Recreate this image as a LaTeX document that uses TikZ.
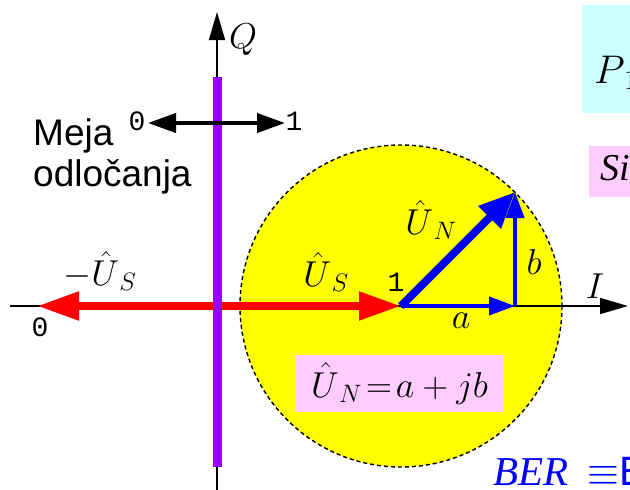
\RequirePackage{fix-cm}
\documentclass[tikz,border=0pt]{standalone}
\usepackage{fontspec}
\newfontfamily\sansfont{Liberation Sans}
\newfontfamily\monofont{Liberation Mono}
\newfontfamily\seriffont{Liberation Serif}
\usetikzlibrary{arrows.meta, positioning}

\definecolor{circfill}{RGB}{255,255,0}
\definecolor{boundary}{RGB}{153,0,255}
\definecolor{boxpink}{RGB}{255,204,255}
\definecolor{boxcyan}{RGB}{204,255,255}

\begin{document}
\begin{tikzpicture}[
    x=1pt, y=-1pt,
    axis/.style={line width=1.6pt, -{Triangle[length=28pt, width=16pt]}},
    vecred/.style={red, line width=8pt, -{Triangle[length=42pt, width=27pt]}},
    vecbig/.style={blue, line width=8pt, -{Triangle[length=36pt, width=30pt]}},
    vecsmall/.style={blue, line width=4pt, -{Triangle[length=26pt, width=18pt]}},
    decide/.style={line width=4pt, {Triangle[length=28pt, width=19pt]}-{Triangle[length=28pt, width=19pt]}},
    lbl/.style={inner sep=0pt, font=\fontsize{36}{40}\selectfont},
    digit/.style={inner sep=0pt, font=\monofont\fontsize{28}{30}\selectfont},
]
\useasboundingbox (0,0) rectangle (630,490);
\clip (0,0) rectangle (630,490);

% points
\coordinate (O) at (401,306);
\coordinate (orig) at (217,306);
\coordinate (tip) at (515,192);
\coordinate (foot) at (515,306);
\coordinate (left) at (37,306);
\coordinate (xstart) at (10,306);
\coordinate (xend) at (628,306);
\coordinate (ystart) at (217,495);
\coordinate (yend) at (217,12);
\coordinate (btop) at (217,77);
\coordinate (bbot) at (217,467);
\coordinate (d0) at (148,123);
\coordinate (d1) at (285,123);

% noise circle
\draw[fill=circfill, line width=1.4pt, dash pattern=on 4pt off 3pt] (O) circle[radius=161];

% side boxes (cut by the frame)
\node[fill=boxcyan, minimum width=70pt, minimum height=108pt, anchor=north west, inner sep=0pt] (pbox) at (582,5) {};
\node[anchor=base west, lbl, font=\fontsize{40}{42}\selectfont] (plab) at (594,83) {$P_{\,1}$};
\node[fill=boxpink, minimum width=60pt, minimum height=51pt, anchor=north west, inner sep=0pt] (sbox) at (589,146) {};
\node[anchor=base west, inner sep=0pt, font=\seriffont\itshape\fontsize{38}{40}\selectfont] (slab) at (600,180) {Si};

% axes
\draw[axis] (xstart) -- (xend);
\draw[axis] (ystart) -- (yend);

% red vectors
\draw[vecred] (orig) -- (left);
\draw[vecred] (orig) -- (O);

% decision boundary
\draw[boundary, line width=9pt] (btop) -- (bbot);
\draw[decide] (d0) -- (d1);

% blue vectors
\draw[vecsmall] (O) -- (foot);
\draw[vecsmall] (foot) -- (tip);
\draw[vecbig] (O) -- (tip);

% labels
\node[lbl] (qlab) at (243,40) {$Q$};
\node[lbl] (ilab) at (595,286) {$I$};
\node[lbl] (mus) at (100,271) {$-\hat{U}_{\,S}$};
\node[lbl] (us) at (326,272) {$\hat{U}_{\,S}$};
\node[lbl] (un) at (431,220) {$\hat{U}_{\,N}$};
\node[lbl] (blab) at (534,262) {$b$};
\node[lbl] (alab) at (461,321) {$a$};
\node[digit] (one) at (396,282) {1};
\node[digit] (zero) at (40,327) {0};
\node[digit] (dzero) at (137,121) {0};
\node[digit] (done) at (294,121) {1};

\node[fill=boxpink, minimum width=209pt, minimum height=57pt, inner sep=0pt, lbl] (eq) at (399.5,383.5) {$\hat{U}_{\,N}\!=\!a+jb$};

\node[anchor=north west, align=left, inner sep=0pt, font=\sansfont\fontsize{37}{41}\selectfont] (meja) at (33,118) {Meja\\odločanja};

\node[anchor=base west, inner sep=0pt, blue, font=\fontsize{41}{44}\selectfont] (ber) at (493,485) {{\seriffont\itshape BER}\hspace{19pt}$\equiv$\hspace{0pt}{\sansfont E}};
\end{tikzpicture}
\end{document}
